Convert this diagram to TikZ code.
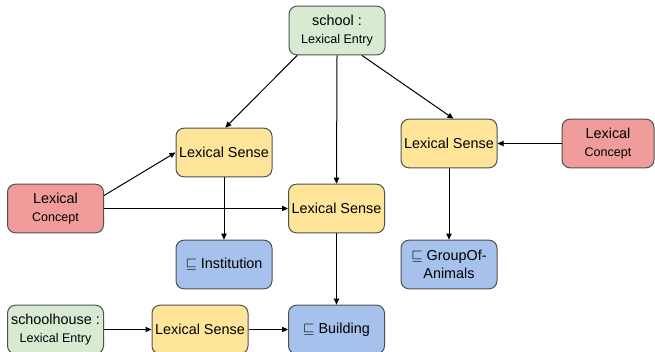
\documentclass[tikz,border=0pt]{standalone}
\usepackage{fontspec}
\setmainfont{Liberation Sans}
\usetikzlibrary{arrows.meta}

\definecolor{entryfill}{RGB}{217,234,211}
\definecolor{sensefill}{RGB}{255,229,153}
\definecolor{conceptfill}{RGB}{240,156,154}
\definecolor{classfill}{RGB}{166,194,236}
\definecolor{boxline}{RGB}{80,80,80}

\newcommand{\subtxt}{\fontsize{9.4}{11}\selectfont}

\tikzset{every picture/.style={line width=0.75pt}}
\tikzset{
	box/.style={draw=boxline, rounded corners=6pt, minimum width=72pt, minimum height=36.5pt, align=center, inner sep=2pt, font=\fontsize{10.8}{13}\selectfont},
	entry/.style={box, fill=entryfill},
	sense/.style={box, fill=sensefill},
	concept/.style={box, fill=conceptfill},
	class/.style={box, fill=classfill},
	link/.style={-{Triangle[length=4.5pt,width=4pt]}, black}}

\begin{document}
\begin{tikzpicture}[x=0.75pt,y=0.75pt,yscale=-1,xscale=1]
	\useasboundingbox (0,0) rectangle (655,352);

	%Shape: Entries
	\node [entry] (school) at (337,30.5) {school :\\[1pt]\subtxt Lexical Entry};
	\node [entry] (house) at (55.5,329.5) {schoolhouse :\\[1pt]\subtxt Lexical Entry};
	%Shape: Senses
	\node [sense] (senseA) at (224,152.5) {Lexical Sense};
	\node [sense] (senseB) at (336.5,208.5) {Lexical Sense};
	\node [sense] (senseC) at (449,143.5) {Lexical Sense};
	\node [sense] (senseD) at (200,329.5) {Lexical Sense};
	%Shape: Concepts
	\node [concept] (conceptL) at (55.5,208.5) {Lexical\\[1pt]\subtxt Concept};
	\node [concept, minimum width=69pt] (conceptR) at (608,143.5) {Lexical\\[1pt]\subtxt Concept};
	%Shape: Classes
	\node [class] (inst) at (224,264.5) {$\sqsubseteq$ Institution};
	\node [class] (animals) at (449,264.5) {$\sqsubseteq$ GroupOf-\\Animals};
	\node [class] (building) at (336.5,329.5) {$\sqsubseteq$ Building};

	%Straight Lines
	\draw [link] (school.212) -- (senseA.87);
	\draw [link] (school.south) -- (senseB.north);
	\draw [link] (school.315) -- (senseC.80);
	\draw [link] (conceptL.15) -- (senseA.west);
	\draw [link] (conceptL.east) -- (senseB.west);
	\draw [link] (conceptR.west) -- (senseC.east);
	\draw [link] (senseA.south) -- (inst.north);
	\draw [link] (senseC.south) -- (animals.north);
	\draw [link] (senseB.south) -- (building.north);
	\draw [link] (house.east) -- (senseD.west);
	\draw [link] (senseD.east) -- (building.west);

\end{tikzpicture}
\end{document}
